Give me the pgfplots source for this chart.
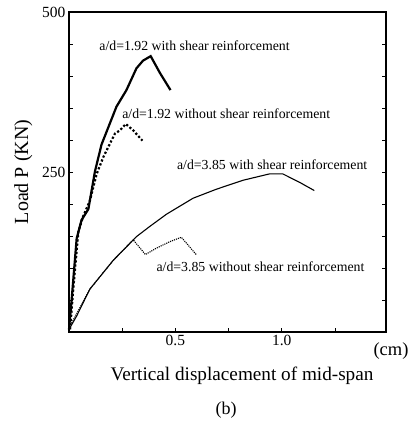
\documentclass[border=0pt]{standalone}
\usepackage{fontspec}
\setmainfont{Liberation Serif}
\usepackage{pgfplots}
\pgfplotsset{compat=1.18}
\begin{document}
\begin{tikzpicture}
\path[use as bounding box] (0,0) rectangle (411pt,427pt);
\begin{axis}[
  at={(69pt,95pt)}, anchor=south west,
  scale only axis, width=317pt, height=320pt,
  xmin=0, xmax=1.49, ymin=0, ymax=500,
  axis line style={line width=1.2pt},
  xtick={0.25,0.5,0.75,1,1.25},
  xticklabels={,0.5,,1.0,},
  ytick={50,100,150,200,250,300,350,400,450,500},
  yticklabels={,,,,250,,,,,500},
  xtick pos=bottom, ytick pos=both,
  tick align=inside,
  major tick length=4pt,
  tick style={line width=0.8pt, black},
  /pgf/number format/assume math mode=true,
  tick label style={font=\fontsize{15.5}{18}\selectfont},
  ylabel={Load P (KN)},
  ylabel style={font=\fontsize{20}{24}\selectfont, at={(axis description cs:0,0.5)}, anchor=south, yshift=33pt},
  clip=false,
]
\addplot[line width=2.2pt, black] coordinates {
(0,4) (0.0125,51) (0.036,146) (0.059,175) (0.091,192) (0.122,251) (0.153,293) (0.223,352) (0.27,378) (0.317,412) (0.348,424) (0.384,431) (0.427,405) (0.477,378)};
\addplot[line width=2.2pt, black, dotted] coordinates {
(0.005,4) (0.02,67) (0.044,157) (0.067,181) (0.098,205) (0.13,247) (0.161,273) (0.192,294) (0.216,310) (0.239,315) (0.267,325) (0.302,315) (0.345,299)};
\addplot[line width=1.1pt, black] coordinates {
(0,4) (0.036,25) (0.098,67) (0.208,112) (0.317,149) (0.38,165) (0.458,184) (0.583,209) (0.692,223) (0.817,237) (0.942,247) (1.005,247) (1.083,234) (1.153,221)};
\addplot[line width=1.1pt, black, densely dotted] coordinates {
(0.0125,14) (0.098,67) (0.208,112) (0.302,144) (0.359,121) (0.411,131) (0.473,141) (0.528,148) (0.598,121)};
\node[font=\fontsize{13.8}{16}\selectfont] at (axis cs:0.59,447) {a/d=1.92 with shear reinforcement};
\node[font=\fontsize{13.8}{16}\selectfont] at (axis cs:0.739,341) {a/d=1.92 without shear reinforcement};
\node[font=\fontsize{13.8}{16}\selectfont] at (axis cs:0.955,261) {a/d=3.85 with shear reinforcement};
\node[font=\fontsize{13.8}{16}\selectfont] at (axis cs:0.9,101.5) {a/d=3.85 without shear reinforcement};
\end{axis}
\node[font=\fontsize{18.5}{22}\selectfont] at (391pt,76pt) {(cm)};
\node[font=\fontsize{19.2}{23}\selectfont] at (242pt,51pt) {Vertical displacement of mid-span};
\node[font=\fontsize{18}{22}\selectfont] at (226pt,17pt) {(b)};
\end{tikzpicture}
\end{document}
